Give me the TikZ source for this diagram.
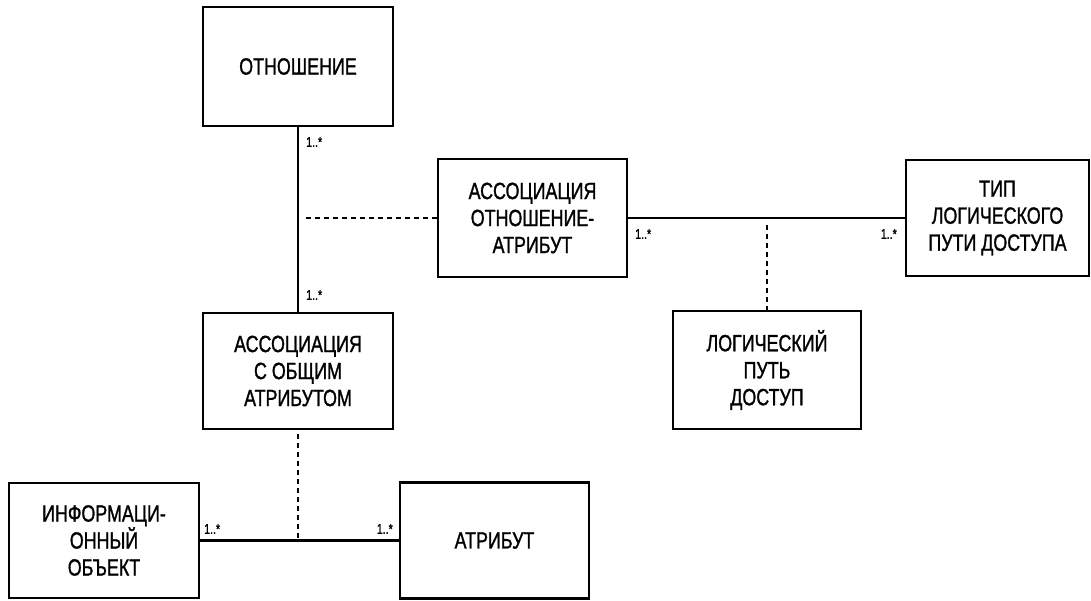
\documentclass[tikz,border=0pt]{standalone}
\usepackage{fontspec}
\setmainfont{Liberation Sans}[FakeStretch=0.76,FakeBold=1.2]
\begin{document}
\begin{tikzpicture}[x=1pt,y=-1pt,
  box/.style={draw,line width=2.8pt,rectangle,inner sep=0pt,align=center,
    font=\fontsize{23.5}{27}\selectfont},
  solidline/.style={line width=2.4pt},
  dotline/.style={line width=2.8pt,dash pattern=on 5pt off 4pt},
  mult/.style={font=\fontsize{14}{16}\selectfont,inner sep=0pt}]
\useasboundingbox (0,0) rectangle (1091,601);
\node[box,minimum width=190pt,minimum height=119pt] (rel) at (298,66.5) {ОТНОШЕНИЕ};
\node[box,minimum width=189pt,minimum height=118pt] (assra) at (532.5,218) {АССОЦИАЦИЯ\\ОТНОШЕНИЕ-\\АТРИБУТ};
\node[box,minimum width=183pt,minimum height=116pt] (type) at (997.5,218) {ТИП\\ЛОГИЧЕСКОГО\\ПУТИ ДОСТУПА};
\node[box,minimum width=188pt,minimum height=118pt] (path) at (767,370) {ЛОГИЧЕСКИЙ\\ПУТЬ\\ДОСТУП};
\node[box,minimum width=190pt,minimum height=116pt] (common) at (298,371) {АССОЦИАЦИЯ\\С ОБЩИМ\\АТРИБУТОМ};
\node[box,minimum width=190pt,minimum height=115pt] (info) at (104,540.5) {ИНФОРМАЦИ-\\ОННЫЙ\\ОБЪЕКТ};
\node[box,minimum width=189pt,minimum height=116pt] (attr) at (494.5,540.5) {АТРИБУТ};

\coordinate (j1) at (298,218);
\coordinate (j2) at (767,218);
\coordinate (j3) at (298,540.5);

\draw[solidline] (rel.south) -- (common.north);
\draw[solidline] (assra.east) -- (type.west);
\draw[solidline] (info.east) -- (attr.west);
\draw[dotline,shorten <=8pt] (j1) -- (assra.west);
\draw[dotline,shorten <=7pt] (j2) -- (path.north);
\draw[dotline,shorten <=4pt] (common.south) -- (j3);

\node[mult,anchor=west] (m1) at (306,142) {1..*};
\node[mult,anchor=west] (m2) at (306,295) {1..*};
\node[mult,anchor=west] (m3) at (635,234) {1..*};
\node[mult,anchor=east] (m4) at (897,234) {1..*};
\node[mult,anchor=west] (m5) at (204,529) {1..*};
\node[mult,anchor=east] (m6) at (393,529) {1..*};
\end{tikzpicture}
\end{document}
